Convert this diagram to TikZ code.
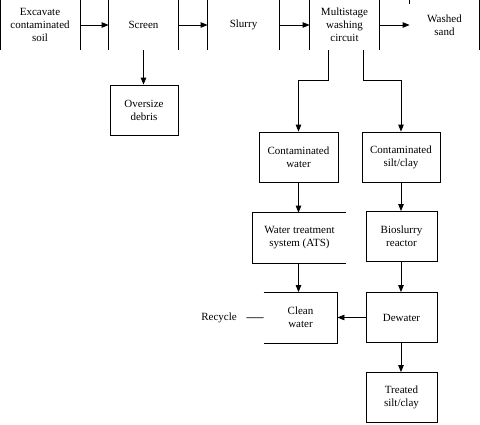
\documentclass[tikz,border=0pt]{standalone}
\usepackage{fontspec}
\setmainfont{Liberation Serif}
\usepackage{tikz}
\usetikzlibrary{arrows.meta, calc}

\begin{document}
\begin{tikzpicture}[x=1pt, y=-1pt, line width=0.8pt, font=\fontsize{11}{13}\selectfont,
	blk/.style={align=center, inner sep=0pt, minimum height=50pt},
	box/.style={blk, draw},
	flow/.style={-{Triangle[length=7pt, width=5.5pt]}}]
	\useasboundingbox (0,0) rectangle (480,424);
	\path (40,25) node [blk, minimum width=79] (soil) {Excavate\\contaminated\\soil};
	\path (143.5,25) node [blk, minimum width=69] (screen) {Screen};
	\path (243.5,25) node [blk, minimum width=71] (slurry) {Slurry};
	\path (344.5,25) node [blk, minimum width=69] (wash) {Multistage\\washing\\circuit};
	\path (444.5,25) node [blk, minimum width=69] (sand) {Washed\\sand};
	\path (144,110) node [box, minimum width=68] (debris) {Oversize\\debris};
	\path (298.5,157) node [box, minimum width=79] (water) {Contaminated\\water};
	\path (401,157) node [box, minimum width=78] (silt) {Contaminated\\silt/clay};
	\path (299.5,238) node [blk, minimum width=93] (ats) {Water treatment\\system (ATS)};
	\path (401.5,236.5) node [box, minimum width=71] (bio) {Bioslurry\\reactor};
	\path (300.5,317.5) node [blk, minimum width=73] (clean) {Clean\\water};
	\path (401.5,317.5) node [box, minimum width=71] (dewater) {Dewater};
	\path (401.5,397.5) node [box, minimum width=71] (treated) {Treated\\silt/clay};
	\path (219,318) node (recycle) {Recycle};
	% open box sides
	\draw (soil.north west) -- (soil.south west) (soil.north east) -- (soil.south east);
	\draw (screen.north west) -- (screen.south west) (screen.north east) -- (screen.south east);
	\draw (slurry.north west) -- (slurry.south west) (slurry.north east) -- (slurry.south east);
	\draw (wash.north west) -- (wash.south west) (wash.north east) -- (wash.south east);
	\draw ($(sand.north west)+(0,4)$) -- (sand.north west) -- (sand.north east) -- (sand.south east);
	\draw (ats.north east) -- (ats.north west) -- (ats.south west) -- (ats.south east);
	\draw (clean.north west) -- (clean.north east) -- (clean.south east) -- (clean.south west);
	% flow
	\draw [flow] (soil) -- (screen);
	\draw [flow] (screen) -- (slurry);
	\draw [flow] (slurry) -- (wash);
	\draw [flow] (wash) -- (sand);
	\draw [flow] (screen.south) -- (screen.south |- debris.north);
	\draw [flow] ($(wash.south)+(-16.5,0)$) -- ++(0,30) -| (water);
	\draw [flow] ($(wash.south)+(18.5,0)$) -- ++(0,30) -| (silt);
	\draw [flow] (water.south) -- (water.south |- ats.north);
	\draw [flow] (water.south |- ats.south) -- (water.south |- clean.north);
	\draw [flow] (silt.south) -- (silt.south |- bio.north);
	\draw [flow] (silt.south |- bio.south) -- (silt.south |- dewater.north);
	\draw [flow] (silt.south |- dewater.south) -- (silt.south |- treated.north);
	\draw [flow] (dewater) -- (clean);
	\draw [shorten <=6pt] (recycle) -- (clean);
\end{tikzpicture}
\end{document}
